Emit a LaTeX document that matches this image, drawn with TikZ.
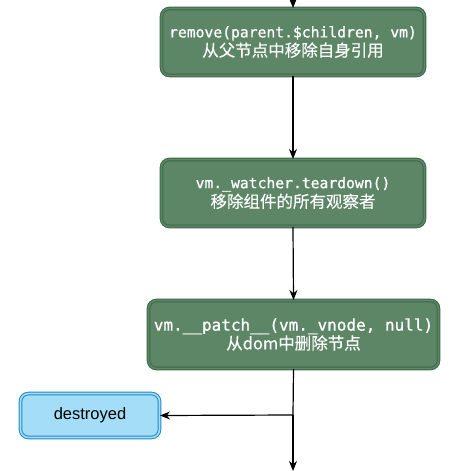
\documentclass[tikz,border=0pt]{standalone}
\usepackage{fontspec}
\setmainfont{Liberation Sans}
\newfontfamily\monof[FakeBold=1]{DejaVu Sans Mono}
\newfontfamily\cjk[FakeBold=0.3]{Noto Sans CJK SC}
\usetikzlibrary{arrows.meta}
\definecolor{gfill}{HTML}{5D8667}
\definecolor{gline}{HTML}{3A6846}
\definecolor{bfill}{HTML}{A4DDF7}
\definecolor{bline}{HTML}{1F88C4}
\newcommand{\us}{\symbol{95}}
\tikzset{
  gbox/.style={draw=gline, line width=1pt, double=gfill, double distance=1.6pt, fill=gfill,
    rounded corners=8pt, inner sep=0pt, align=center, text=white},
  bbox/.style={draw=bline, line width=1pt, double=bfill, double distance=1.6pt, fill=bfill,
    rounded corners=8pt, inner sep=0pt, align=center, text=black},
  conn/.style={line width=1.2pt, -{Stealth[length=10pt,width=8pt]}}
}
\begin{document}
\begin{tikzpicture}[x=1pt,y=-1pt]
\fill[white] (0,0) rectangle (456,471);
\useasboundingbox (0,0) rectangle (456,471);
\node[gbox, minimum width=263pt, minimum height=67pt] (b1) at (293,42)
  {{\monof\fontsize{14.7}{21}\selectfont remove(parent.\$children, vm)}\\[1pt]
   {\cjk\fontsize{16.5}{21}\selectfont 从父节点中移除自身引用}};
\node[gbox, minimum width=263pt, minimum height=67pt] (b2) at (293,193)
  {{\monof\fontsize{14.7}{21}\selectfont vm.\us watcher.teardown()}\\[1pt]
   {\cjk\fontsize{16.5}{21}\selectfont 移除组件的所有观察者}};
\node[gbox, minimum width=290pt, minimum height=68pt] (b3) at (293.5,334.5)
  {{\monof\fontsize{16}{22}\selectfont vm.\us\us patch\us\us(vm.\us vnode, null)}\\[0pt]
   {\cjk\fontsize{16.5}{22}\selectfont 从dom中删除节点}};
\node[bbox, minimum width=139pt, minimum height=44pt, font=\fontsize{16.5}{20}\selectfont] (d) at (90,415.5) {destroyed};
\coordinate (top) at (293,0);
\coordinate (split) at (293,415);
\coordinate (bot) at (293,471);
\draw[conn] (top) -- (b1.north);
\draw[conn] (b1.south) -- (b2.north);
\draw[conn] (b2.south) -- (b3.north);
\draw[line width=1.2pt] (b3.south) -- (split);
\draw[conn] (split) -- (bot);
\draw[conn] (split) -- (d.east);
\end{tikzpicture}
\end{document}
